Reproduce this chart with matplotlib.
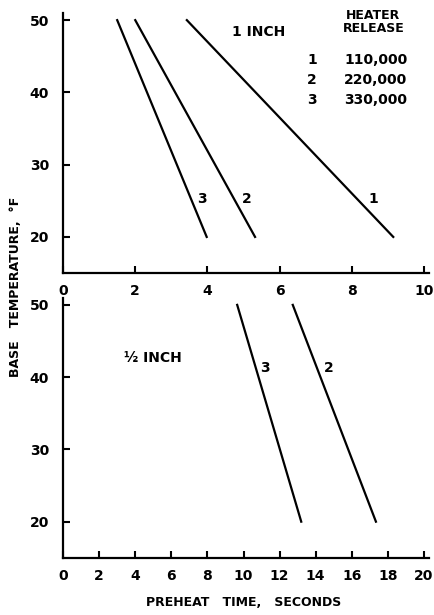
import matplotlib
matplotlib.use("Agg")
import matplotlib.pyplot as plt

plt.rcParams['font.family'] = ['DejaVu Sans']
plt.rcParams['font.weight'] = 'bold'

# 1 inch panel: preheat time (s) vs base temperature (F)
temps = [50, 20]
one_inch = {
    "1": [3.43, 9.15],
    "2": [2.0, 5.32],
    "3": [1.5, 3.98],
}
one_inch_lbl = {"1": (8.6, 25.3), "2": (5.1, 25.3), "3": (3.84, 25.3)}

# 1/2 inch panel
half_inch = {
    "3": [9.65, 13.2],
    "2": [12.73, 17.34],
}
half_inch_lbl = {"3": (11.2, 41.3), "2": (14.7, 41.3)}

heater_ids = ["1", "2", "3"]
heater_release = ["110,000", "220,000", "330,000"]

fig = plt.figure(figsize=(4.35, 6.15), dpi=100)
ax1 = fig.add_axes([0.145, 0.556, 0.842, 0.423])
ax2 = fig.add_axes([0.145, 0.093, 0.842, 0.423])

def style(ax, xmax, xticks):
    ax.set_xlim(0, xmax)
    ax.set_ylim(15, 51)
    ax.set_xticks(xticks)
    ax.set_yticks([20, 30, 40, 50])
    for s in ["top", "right"]:
        ax.spines[s].set_visible(False)
    for s in ["left", "bottom"]:
        ax.spines[s].set_linewidth(1.6)
    ax.tick_params(direction="in", length=5, width=1.5, labelsize=10)
    ax.tick_params(axis="y", pad=10)
    ax.tick_params(axis="x", pad=8)

for k, xs in one_inch.items():
    ax1.plot(xs, temps, color="black", lw=1.6)
    ax1.text(*one_inch_lbl[k], k, fontsize=10, ha="center", va="center")
style(ax1, 10.15, range(0, 11, 2))
ax1.text(5.43, 48.3, "1 INCH", fontsize=10, ha="center", va="center")
ax1.text(8.6, 49.8, "HEATER\nRELEASE", fontsize=9, ha="center", va="center",
         linespacing=1.0)
for i, (h, r) in enumerate(zip(heater_ids, heater_release)):
    y = 44.5 - i * 2.8
    ax1.text(6.9, y, h, fontsize=10, ha="center", va="center")
    ax1.text(8.67, y, r, fontsize=10, ha="center", va="center")

for k, xs in half_inch.items():
    ax2.plot(xs, temps, color="black", lw=1.6)
    ax2.text(*half_inch_lbl[k], k, fontsize=10, ha="center", va="center")
style(ax2, 20.3, range(0, 21, 2))
ax2.text(5.0, 42.7, "½ INCH", fontsize=10, ha="center", va="center")

fig.text(0.559, 0.02, "PREHEAT   TIME,   SECONDS", fontsize=9, ha="center", va="center")
fig.text(0.035, 0.533, "BASE   TEMPERATURE,  °F", fontsize=9, ha="center", va="center",
         rotation=90)

fig.savefig("out.png", dpi=100)
